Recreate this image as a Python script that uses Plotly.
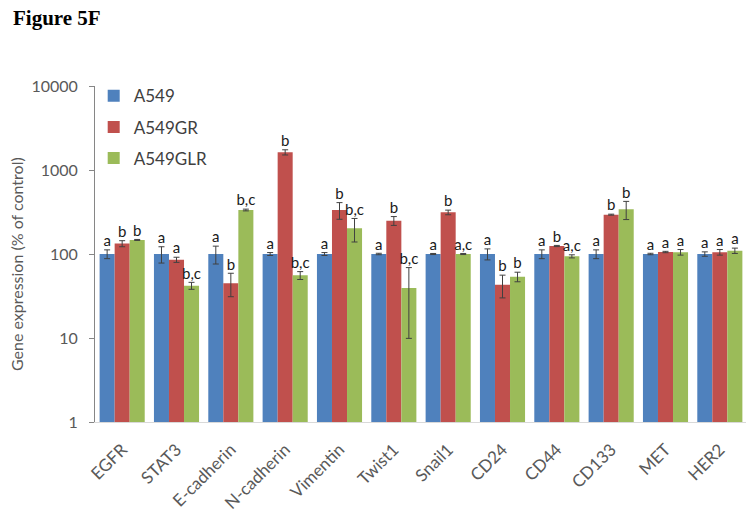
import plotly.graph_objects as go

genes = ["EGFR", "STAT3", "E-cadherin", "N-cadherin", "Vimentin", "Twist1",
         "Snail1", "CD24", "CD44", "CD133", "MET", "HER2"]

a549 = [100, 100, 100, 100, 100, 100, 100, 100, 100, 100, 100, 100]
a549_err = [12, 22, 24, 4, 4, 2, 1.5, 15, 12, 12, 2, 6]
a549_lbl = ["a", "a", "a", "a", "a", "a", "a", "a", "a", "a", "a", "a"]

a549gr = [133, 85.5, 45, 1625, 334, 249, 313, 43, 124.5, 294, 105.6, 105]
a549gr_err = [11, 6, 14, 115, 75, 30, 20, 13, 2, 4, 2, 8]
a549gr_lbl = ["b", "a", "b", "b", "b", "b", "b", "b", "b", "b", "a", "a"]

a549glr = [147, 42, 334, 55.7, 202, 39.4, 100, 53.7, 93.8, 340, 105, 109.5]
a549glr_err = [2, 4, 8, 6, 63, 29.5, 1.5, 7, 4, 83, 8, 8]
a549glr_lbl = ["b", "b,c", "b,c", "b,c", "b,c", "b,c", "a,c", "b", "a,c", "b", "a", "a"]

series = [
    ("A549", a549, a549_err, a549_lbl, "#4F81BD"),
    ("A549GR", a549gr, a549gr_err, a549gr_lbl, "#C0504D"),
    ("A549GLR", a549glr, a549glr_err, a549glr_lbl, "#9BBB59"),
]

BARGAP = 0.17
bw = (1 - BARGAP) / len(series)
xs = list(range(len(genes)))

fig = go.Figure()
for k, (name, vals, errs, lbls, col) in enumerate(series):
    fig.add_trace(go.Bar(
        x=xs, y=vals, name=name, marker=dict(color=col, line=dict(width=0)),
        error_y=dict(type="data", array=errs, visible=True, color="#404040",
                     thickness=1, width=3),
        legendgroup=name,
    ))
for k, (name, vals, errs, lbls, col) in enumerate(series):
    off = (k - (len(series) - 1) / 2) * bw
    fig.add_trace(go.Scatter(
        x=[i + off for i in xs], y=[v + e for v, e in zip(vals, errs)],
        mode="text", text=lbls, textposition="top center",
        textfont=dict(family="Lato, Open Sans, sans-serif", size=15, color="#1a1a1a"),
        showlegend=False, hoverinfo="skip", cliponaxis=False,
    ))

# the page body has an 8px default margin, so the figure is 8px smaller
fig.update_layout(
    template="none",
    width=746, height=506,
    margin=dict(l=87, r=7, t=78, b=92, autoexpand=False),
    paper_bgcolor="white", plot_bgcolor="white",
    barmode="group", bargap=BARGAP, bargroupgap=0,
    font=dict(family="Lato, Open Sans, sans-serif", color="#595959"),
    title=dict(text="<b>Figure 5F</b>", xref="container", yref="container",
               x=5 / 746, xanchor="left", y=1 - 2 / 506, yanchor="top",
               pad=dict(t=0, b=0, l=0, r=0),
               font=dict(family="Liberation Serif", size=21, color="black")),
    legend=dict(x=-0.002, y=1.023, xanchor="left", yanchor="top",
                font=dict(size=17, color="#404040"), tracegroupgap=6,
                itemwidth=30, bgcolor="rgba(0,0,0,0)"),
    showlegend=True,
    annotations=[dict(text="Gene expression (% of control)", textangle=-90,
                      xref="paper", yref="paper", x=0, y=0.47, xshift=-79,
                      xanchor="center", yanchor="middle", showarrow=False,
                      font=dict(size=16, color="#595959"))],
)
fig.update_xaxes(
    range=[-0.5, len(genes) - 0.5], tickmode="array", tickvals=xs, ticktext=genes,
    tickangle=-45, tickfont=dict(size=17, color="#595959"),
    showline=True, linecolor="#d9d9d9", linewidth=1, ticks="", showgrid=False,
    zeroline=False, ticklabelstandoff=10, automargin=False,
)
fig.update_yaxes(
    type="log", range=[0, 4], tickmode="array",
    tickvals=[1, 10, 100, 1000, 10000], ticktext=["1", "10", "100", "1000", "10000"],
    tickfont=dict(size=16, color="#595959"),
    showline=True, linecolor="#868686", linewidth=1, ticks="outside", ticklen=5,
    tickcolor="#868686", showgrid=False, zeroline=False, ticklabelstandoff=8,
    automargin=False,
)

fig.write_html("out.html")
